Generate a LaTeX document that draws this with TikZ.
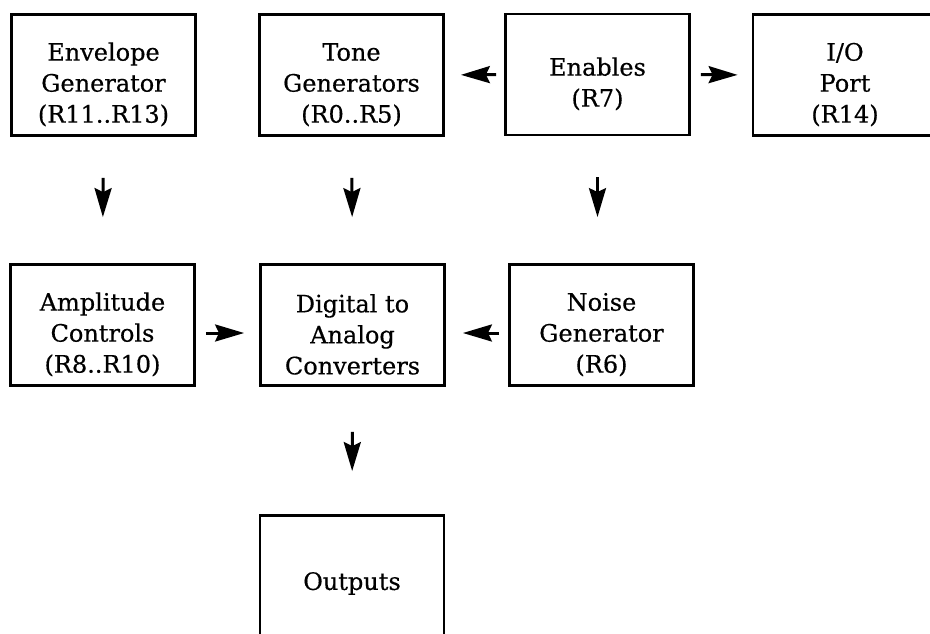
\documentclass[tikz,border=0pt]{standalone}
\usepackage{fontspec}
\setmainfont{DejaVu Serif}[FakeBold=0.5]
\usetikzlibrary{arrows.meta}
\newcommand{\lowerfirst}{\rule{0pt}{37pt}}
\tikzset{
  box/.style={draw, line width=2.8pt, minimum width=184pt, minimum height=121pt,
    align=center, inner sep=0pt, font=\fontsize{24}{31}\selectfont},
  arr/.style={line width=3pt, -{Stealth[length=29pt, width=17pt, inset=4pt]}}
}
\begin{document}
\begin{tikzpicture}[x=1pt, y=-1pt]
\useasboundingbox (0,0) rectangle (930,633);
\clip (0,0) rectangle (930,633);
\node[box] (env)   at (103.5,75)  {\lowerfirst Envelope\\Generator\\(R11..R13)};
\node[box] (tone)  at (351.5,75)  {\lowerfirst Tone\\Generators\\(R0..R5)};
\node[box] (en)    at (597.5,74.5) {\lowerfirst Enables\\(R7)};
\node[box] (io)    at (845,75)    {\lowerfirst I/O\\Port\\(R14)};
\node[box] (amp)   at (102.5,325) {\lowerfirst Amplitude\\Controls\\(R8..R10)};
\node[box] (dac)   at (352.5,325) {\lowerfirst Digital to\\Analog\\Converters};
\node[box] (noise) at (601.5,325) {\lowerfirst Noise\\Generator\\(R6)};
\node[box, minimum height=136pt] (out) at (352,583.5) {Outputs};

\draw[arr, shorten <=8pt, shorten >=16pt] (en.west) -- (tone.east);
\draw[arr, shorten <=10pt, shorten >=14pt] (en.east) -- (io.west);
\draw[arr, shorten <=41pt, shorten >=46pt] (env.south) -- (amp.north);
\draw[arr, shorten <=41pt, shorten >=46pt] (tone.south) -- (dac.north);
\draw[arr, shorten <=41pt, shorten >=46pt] (en.south) -- (en.south |- noise.north);
\draw[arr, shorten <=10pt, shorten >=15pt] ([yshift=-8pt]amp.east) -- ([yshift=-8pt]dac.west);
\draw[arr, shorten <=9pt, shorten >=17pt] ([yshift=-8pt]noise.west) -- ([yshift=-8pt]dac.east);
\draw[arr, shorten <=45pt, shorten >=43pt] (dac.south) -- (out.north);
\end{tikzpicture}
\end{document}
